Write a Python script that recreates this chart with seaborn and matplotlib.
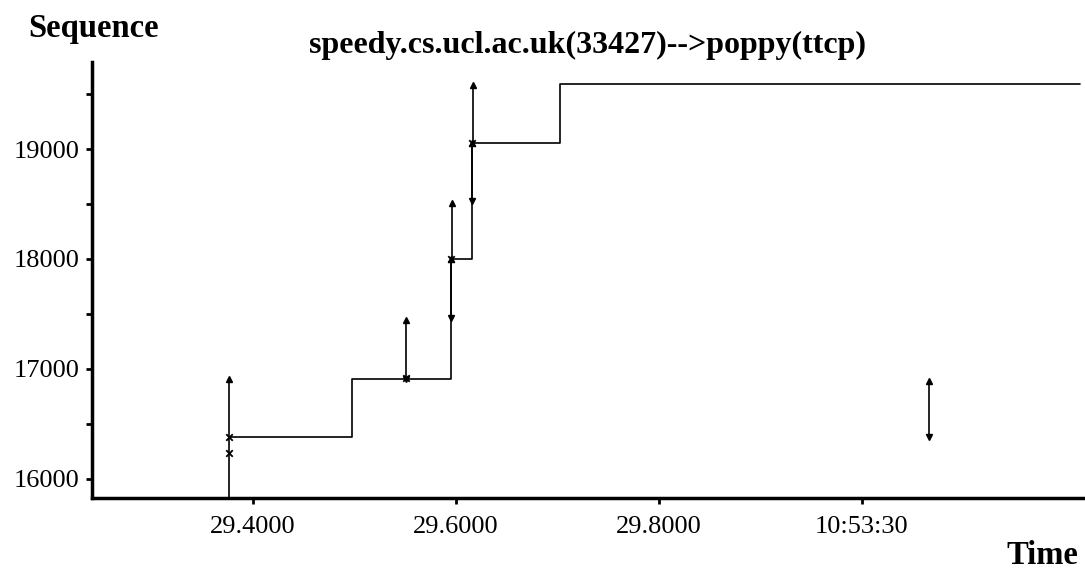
import matplotlib
matplotlib.use("Agg")
import matplotlib.pyplot as plt
import seaborn as sns
import pandas as pd
import numpy as np

# ---- data ----
ack_time = [29.376, 29.4975, 29.5951, 29.6158, 29.7025, 30.215]
ack_seq = [16382, 16905, 18000, 19055, 19590, 19590]

seg_time = [29.376, 29.376, 29.5507, 29.5951, 29.5961, 29.6158, 29.6166, 30.066]
seg_lo = [15700, 16382, 16905, 17460, 18000, 18527, 19055, 16382]
seg_hi = [16382, 16909, 17445, 18000, 18509, 19055, 19582, 16891]
seg_arrow_lo = [False, False, True, True, False, True, False, True]
seg_arrow_hi = [False, True, True, True, True, True, True, True]

mark_time = [29.376, 29.376, 29.5507, 29.5956, 29.6158]
mark_seq = [16382, 16236, 16918, 18000, 19055]

x_ticks = [29.4, 29.6, 29.8, 30.0]
x_labels = ["29.4000", "29.6000", "29.8000", "10:53:30"]
y_ticks = [16000, 17000, 18000, 19000]
y_minor = [16500, 17500, 18500, 19500]

title = "speedy.cs.ucl.ac.uk(33427)-->poppy(ttcp)"

sns.set_theme(style="white")
plt.rcParams['font.family'] = ['Liberation Serif', 'DejaVu Serif']
plt.rcParams['text.color'] = 'black'
plt.rcParams['xtick.color'] = 'black'
plt.rcParams['ytick.color'] = 'black'

fig = plt.figure(figsize=(10.85, 5.7), dpi=100)
ax = fig.add_axes([92/1085, 72/570, (1083-92)/1085, (498-62)/570])

ack_df = pd.DataFrame({"t": ack_time, "s": ack_seq})
sns.lineplot(data=ack_df, x="t", y="s", drawstyle="steps-post", color="black",
             linewidth=1.2, ax=ax, estimator=None, sort=False)

ax.vlines(seg_time, seg_lo, seg_hi, color="black", linewidth=1.2)
up_t = [t for t, a in zip(seg_time, seg_arrow_hi) if a]
up_s = [s for s, a in zip(seg_hi, seg_arrow_hi) if a]
dn_t = [t for t, a in zip(seg_time, seg_arrow_lo) if a]
dn_s = [s for s, a in zip(seg_lo, seg_arrow_lo) if a]
ax.plot(up_t, up_s, linestyle="none", marker="^", markersize=4, color="black")
ax.plot(dn_t, dn_s, linestyle="none", marker="v", markersize=4, color="black")

mark_df = pd.DataFrame({"t": mark_time, "s": mark_seq})
sns.scatterplot(data=mark_df, x="t", y="s", marker="x", s=22, color="black",
                linewidth=1.3, ax=ax, zorder=5)

ax.set_xlim(29.2414, 30.218)
ax.set_ylim(15827, 19791)

ax.set_xticks(x_ticks)
ax.set_xticklabels(x_labels, fontsize=19)
ax.set_yticks(y_ticks)
ax.set_yticklabels([str(v) for v in y_ticks], fontsize=19)
ax.set_yticks(y_minor, minor=True)
ax.tick_params(axis="both", which="both", direction="out", length=4, width=2,
               color="black", labelcolor="black", bottom=True, left=True)
ax.tick_params(axis="y", which="major", pad=5)
ax.tick_params(axis="x", which="major", pad=9)

for side in ["top", "right"]:
    ax.spines[side].set_visible(False)
for side in ["left", "bottom"]:
    ax.spines[side].set_color("black")
    ax.spines[side].set_linewidth(2.5)

ax.set_xlabel("")
ax.set_ylabel("")

fig.text(588/1085, 1 - 45/570, title, ha="center", va="center",
         fontsize=23, fontweight="bold", color="black")
fig.text(28/1085, 1 - 28/570, "Sequence", ha="left", va="center",
         fontsize=23.5, fontweight="bold", color="black")
fig.text(1078/1085, 1 - 556/570, "Time", ha="right", va="center",
         fontsize=23.5, fontweight="bold", color="black")

fig.savefig("out.png", dpi=100)
